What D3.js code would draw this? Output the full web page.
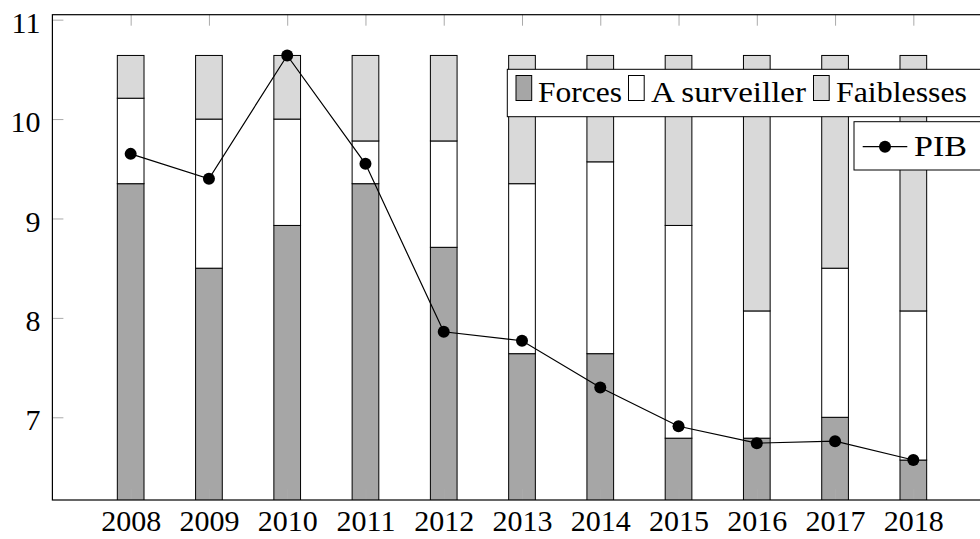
<!DOCTYPE html>
<html>
<head>
<meta charset="utf-8">
<script src="https://cdn.jsdelivr.net/npm/d3@7"></script>
<style>
  html, body { margin: 0; padding: 0; background: #fff; }
  svg { display: block; }
  svg text { font-family: 'Liberation Serif', 'Times New Roman', 'DejaVu Serif', serif !important; fill: #000; }
</style>
</head>
<body>
<svg id="chart" width="980" height="539"></svg>
<script>
// ---- data ----
const years = [2008, 2009, 2010, 2011, 2012, 2013, 2014, 2015, 2016, 2017, 2018];
const forces      = [9.35, 8.50, 8.93, 9.35, 8.71, 7.64, 7.64, 6.79, 6.79, 7.00, 6.57];
const surveiller  = [0.86, 1.50, 1.07, 0.43, 1.07, 1.71, 1.93, 2.14, 1.28, 1.50, 1.50];
const faiblesses  = [0.43, 0.64, 0.64, 0.86, 0.86, 1.29, 1.07, 1.71, 2.57, 2.14, 2.57];
const pib         = [9.65, 9.40, 10.64, 9.55, 7.86, 7.77, 7.30, 6.91, 6.74, 6.76, 6.57];
const yTicks = [7, 8, 9, 10, 11];
const seriesNames = ["Forces", "A surveiller", "Faiblesses"];
const lineName = "PIB";

// ---- layout ----
const FONT = "'Liberation Serif', 'Times New Roman', serif";
const svg = d3.select("#chart");
const pLeft = 52.4, pRight = 991.6, pTop = 14.7, pBottom = 500;
const x = d3.scaleLinear().domain([2007, 2019]).range([pLeft, pRight]);
const y = d3.scaleLinear().domain([6.168, 11.05]).range([pBottom, pTop]);
const colors = ["#a6a6a6", "#ffffff", "#d9d9d9"];
const barW = x(2007.341) - x(2007);

svg.append("defs").append("clipPath").attr("id", "clip")
  .append("rect").attr("x", pLeft).attr("y", pTop).attr("width", pRight - pLeft).attr("height", pBottom - pTop);

// stacked data
const table = years.map((yr, i) => ({ year: yr, Forces: forces[i], "A surveiller": surveiller[i], Faiblesses: faiblesses[i] }));
const stacked = d3.stack().keys(seriesNames)(table);

const plot = svg.append("g").attr("clip-path", "url(#clip)");
stacked.forEach((layer, li) => {
  plot.append("g").selectAll("rect").data(layer).enter().append("rect")
    .attr("x", d => x(d.data.year) - barW / 2)
    .attr("width", barW)
    .attr("y", d => y(d[1]))
    .attr("height", d => y(d[0]) - y(d[1]))
    .attr("fill", colors[li])
    .attr("stroke", "#000")
    .attr("stroke-width", 1);
});

// axes ticks (inside)
const yAxis = d3.axisLeft(y).tickValues(yTicks).tickSize(-11).tickPadding(12).tickFormat(d3.format("d"));
const gy = svg.append("g").attr("transform", `translate(${pLeft},0)`).call(yAxis);
gy.attr("font-family", FONT).attr("font-size", 30);
gy.select(".domain").remove();
gy.selectAll(".tick line").attr("stroke", "#aaa");
gy.selectAll(".tick text").attr("font-family", FONT).attr("font-size", 30).attr("dy", "0.42em");

const xAxis = d3.axisBottom(x).tickValues(years).tickSize(-11).tickPadding(10).tickFormat(d3.format("d"));
const gx = svg.append("g").attr("transform", `translate(0,${pBottom})`).call(xAxis);
gx.attr("font-family", FONT).attr("font-size", 30);
gx.select(".domain").remove();
gx.selectAll(".tick line").attr("stroke", "#aaa");
gx.selectAll(".tick text").attr("font-family", FONT).attr("font-size", 30);

const xTop = d3.axisTop(x).tickValues(years).tickSize(-11).tickFormat("");
const gt = svg.append("g").attr("transform", `translate(0,${pTop})`).call(xTop);
gt.select(".domain").remove();
gt.selectAll(".tick line").attr("stroke", "#aaa");

// PIB line
const line = d3.line().x((d, i) => x(years[i])).y(d => y(d));
plot.append("path").datum(pib).attr("d", line).attr("fill", "none").attr("stroke", "#000").attr("stroke-width", 1.2);
plot.append("g").selectAll("circle").data(pib).enter().append("circle")
  .attr("cx", (d, i) => x(years[i])).attr("cy", d => y(d)).attr("r", 6).attr("fill", "#000");

// frame
svg.append("rect").attr("x", pLeft).attr("y", pTop).attr("width", pRight - pLeft).attr("height", pBottom - pTop)
  .attr("fill", "none").attr("stroke", "#000").attr("stroke-width", 1.2);

// legend 1
const lg = svg.append("g");
lg.append("rect").attr("x", 507.3).attr("y", 69.3).attr("width", 485).attr("height", 47.4)
  .attr("fill", "#fff").attr("stroke", "#000").attr("stroke-width", 1);
const legItems = [
  { sw: 516, tx: 538, tw: 84 },
  { sw: 628.5, tx: 651, tw: 155 },
  { sw: 813.5, tx: 836, tw: 131 }
];
seriesNames.forEach((name, i) => {
  const it = legItems[i];
  lg.append("rect").attr("x", it.sw).attr("y", 75.5).attr("width", 15.7).attr("height", 25)
    .attr("fill", colors[i]).attr("stroke", "#000").attr("stroke-width", 1);
  lg.append("text").attr("x", it.tx).attr("y", 101.5).attr("font-size", 30).attr("font-family", FONT)
    .attr("textLength", it.tw).attr("lengthAdjust", "spacingAndGlyphs").text(name);
});

// legend 2
const lg2 = svg.append("g");
lg2.append("rect").attr("x", 854).attr("y", 121.7).attr("width", 140).attr("height", 48.3)
  .attr("fill", "#fff").attr("stroke", "#000").attr("stroke-width", 1);
lg2.append("line").attr("x1", 862.7).attr("x2", 907.3).attr("y1", 146.7).attr("y2", 146.7)
  .attr("stroke", "#000").attr("stroke-width", 1.2);
lg2.append("circle").attr("cx", 885).attr("cy", 146.7).attr("r", 6).attr("fill", "#000");
lg2.append("text").attr("x", 914).attr("y", 156).attr("font-size", 30).attr("font-family", FONT)
  .attr("textLength", 53).attr("lengthAdjust", "spacingAndGlyphs").text(lineName);
</script>
</body>
</html>
